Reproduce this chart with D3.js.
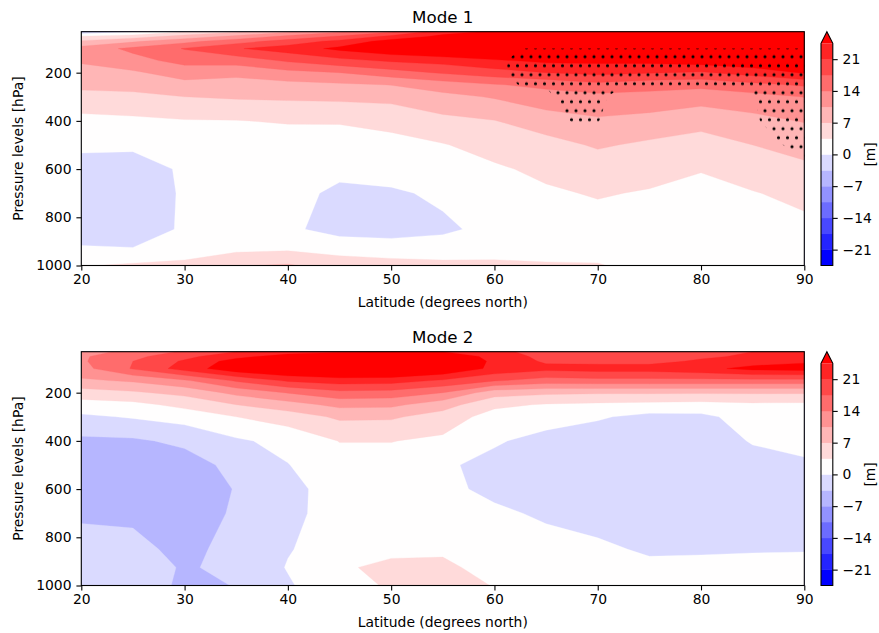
<!DOCTYPE html>
<html><head><meta charset="utf-8">
<script src="https://cdn.jsdelivr.net/npm/d3@7"></script>
<style>
body{margin:0;background:#fff;}
svg text{font-family:"DejaVu Sans",sans-serif;fill:#000;}
</style></head>
<body><svg id="chart" width="879" height="633"></svg>
<script>
// ---------------- data ----------------
const lats = [20,25,30,35,40,45,50,55,60,65,70,75,80,85,90];
const pressures = [30,50,70,100,150,200,250,300,400,500,600,700,850,925,1000];
const levels = [-24.5,-21,-17.5,-14,-10.5,-7,-3.5,0,3.5,7,10.5,14,17.5,21,24.5];
const cbTicks = [-21,-14,-7,0,7,14,21];
const xTicks = [20,30,40,50,60,70,80,90];
const yTicks = [200,400,600,800,1000];
const titles = ["Mode 1","Mode 2"];
const xLabel = "Latitude (degrees north)";
const yLabel = "Pressure levels [hPa]";
const cbLabel = "[m]";

// values per latitude column, ordered by pressures (top -> bottom)
const mode1 = [
 [-3, 4, 7.5, 12, 11, 9, 7.8, 6, 2.4, 0.6, -1.2, -1.3, -0.8, 0.1, 3.3],
 [-0.5, 5.5, 10, 14.8, 12.8, 10, 8, 6.3, 2.8, 0.5, -1.3, -1.5, -1.2, 0, 4],
 [3.5, 8.5, 13, 17.7, 15.2, 12, 9.5, 7, 3.3, 1, 0.4, 0.3, 0.3, 1.2, 4.5],
 [6.5, 11.5, 16, 20.7, 15.5, 11.5, 9, 7.4, 3.4, 1.5, 0.8, 0.7, 0.8, 2.3, 6.8],
 [10, 15, 19, 22.7, 18, 13, 9.5, 7.6, 3.8, 1.6, 1, 0.8, 0.6, 2.6, 7.4],
 [13.5, 18, 22, 25.3, 20, 14, 10, 7.8, 3.8, 1.8, 0.6, -0.5, -1.2, 1.8, 5.5],
 [17, 22, 26, 27.5, 21.5, 16, 10.6, 8, 4.6, 2.3, 1.2, -0.4, -1.5, 1.5, 4.8],
 [23, 25.5, 28, 29, 22.4, 17.9, 12.3, 9.5, 6.1, 3.3, 1.5, 0.5, -0.5, 1.2, 4.5],
 [25, 28, 30, 30, 24, 19.5, 13.8, 10.8, 6.9, 4.8, 3, 1.6, 0.8, 2, 4.2],
 [27, 29, 30, 31, 25.3, 21, 14.8, 12.7, 8.7, 5.8, 4.3, 3, 1.5, 2.3, 3.8],
 [28, 30, 31, 31, 25.3, 22, 16.5, 13, 10, 7.4, 5.2, 3.8, 2, 2.3, 3.7],
 [28.5, 30.5, 31, 31, 25.5, 21.3, 15.2, 13, 9.2, 6.4, 4.8, 3.2, 1.8, 2, 2.5],
 [29, 31, 31.5, 31.5, 26.5, 20.5, 15, 12, 8.2, 5.5, 3.7, 2.4, 1.5, 1.5, 2],
 [29, 31, 31.5, 31.5, 27.5, 22.5, 16.5, 12.8, 9.4, 7, 5.3, 3.3, 1.5, 1.2, 1.2],
 [29, 30.5, 31, 31, 28, 24.8, 18, 14.1, 10.7, 8.2, 6.3, 4.5, 2.5, 1.3, 0.8]
];
const mode2 = [
 [12.5, 13.5, 13.5, 12.8, 9.9, 5.4, 2, -0.6, -4.2, -5.5, -5.5, -3.9, -2.5, -2, -1.5],
 [15, 16.5, 17.5, 17.8, 11, 6.5, 2.5, 0.3, -4, -5.8, -6, -4.2, -2.5, -2, -1.5],
 [18, 20, 21.5, 22.5, 13.5, 8, 4.5, 1.4, -2.8, -5, -5.8, -5.5, -4.5, -3.8, -4.2],
 [21, 23.5, 26, 27, 18, 11.5, 7, 3.5, -0.5, -2.5, -3.3, -3, -2.3, -2.8, -3.4],
 [23, 26, 28.5, 29, 21.5, 14.2, 9, 5.2, 1, -0.1, -1, -0.8, -0.2, 0.2, -0.4],
 [24, 27.5, 30, 30, 22.8, 16.5, 11.5, 7.6, 3.6, 2.2, 1.5, 1.3, 1.5, 3.1, 2.5],
 [24.5, 28, 30.5, 30, 22.5, 16.2, 11.3, 7.5, 3.6, 2.2, 1.8, 1.8, 2.8, 4.2, 3.8],
 [24.5, 28, 30, 28, 20.5, 14, 8.5, 5.5, 2.8, 0.5, 0.8, 1.3, 3.2, 3.9, 4.0],
 [22, 23, 23.5, 23.5, 17.8, 8.5, 4.3, 2, 0.4, -1, -0.8, 0.6, 2.5, 2.8, 3.45],
 [19.5, 20, 20.5, 22, 16, 7.7, 3.2, 1.5, -1.2, -2, -2, -0.5, 1.2, 1.5, 1.8],
 [19, 19.5, 20, 22.5, 16.4, 7.4, 2.8, 0.4, -2, -2.5, -2.5, -1.5, 0.7, 1, 1.2],
 [19, 19.5, 20, 22.5, 16.4, 7.4, 2.5, -1, -2.3, -2.8, -2.8, -2.3, -0.5, 0.8, 1],
 [20, 20.5, 21.5, 23.5, 16.4, 7.4, 2.2, -0.8, -2.2, -2.8, -2.8, -2.3, -0.4, 0.9, 1],
 [21, 21.5, 23, 25.5, 16.4, 7.4, 2.8, 1.5, 0.3, -1.5, -2.3, -2.3, -0.2, 0.8, 0.8],
 [22, 22.5, 24, 26, 16.4, 7.4, 2.7, 1.8, 0.8, -0.4, -1.5, -1.5, -0.1, 0.6, 0.6]
];
// significance (stippling) for mode 1, rows ordered by pressures, columns by sigLats
const sigLats = [60,62.5,65,67.5,70,72.5,75,77.5,80,82.5,85,87.5,90];
const sig1 = [
 [0,0,0,0,0,0,0,0,0,0,0,0,0],
 [0,0,0,0,0,0,0,0,0,0,0,0,0],
 [0,0,0,0,0,0,0,0,0,0,0,0,0],
 [0,0.5,0.5,0.5,0.5,0.5,0.5,0.5,0.5,0.5,0.5,0.5,0.5],
 [0,1,1,1,1,1,1,1,1,1,1,1,1],
 [0,1,1,1,1,1,1,1,1,1,1,1,1],
 [0,0.55,0.55,1,1,0.55,0.55,0.55,0.55,0.55,0.55,1,1],
 [0,0,0.3,1,0.8,0,0,0,0,0,0.45,1,1],
 [0,0,0.15,0.53,0.53,0,0,0,0,0,0.3,1,1],
 [0,0,0,0,0,0,0,0,0,0,0,0.4,1],
 [0,0,0,0,0,0,0,0,0,0,0,0,0],
 [0,0,0,0,0,0,0,0,0,0,0,0,0],
 [0,0,0,0,0,0,0,0,0,0,0,0,0],
 [0,0,0,0,0,0,0,0,0,0,0,0,0],
 [0,0,0,0,0,0,0,0,0,0,0,0,0]
];

// ---------------- helpers ----------------
function bwr(t){
  let i = Math.floor(t*256); i = Math.max(0, Math.min(255, i));
  const x = i/255;
  let r,g,b;
  if (x < 0.5){ r = 2*x; g = 2*x; b = 1; } else { r = 1; g = 2*(1-x); b = 2*(1-x); }
  return d3.rgb(Math.round(r*255), Math.round(g*255), Math.round(b*255)).formatHex();
}
const nBands = levels.length - 1;
function bandColor(k){ return k >= nBands ? "#ff0000" : bwr(k / nBands); }
const fmt = d => d < 0 ? "\u2212" + Math.abs(d) : String(d);

const svg = d3.select("#chart");
svg.append("rect").attr("width",879).attr("height",633).attr("fill","#fff");
const defs = svg.append("defs");
const pat = defs.append("pattern").attr("id","dots").attr("patternUnits","userSpaceOnUse")
  .attr("x",0).attr("y",2.7).attr("width",9).attr("height",18);
[[0,0],[9,0],[4.5,9],[0,18],[9,18]].forEach(p=>pat.append("circle").attr("cx",p[0]).attr("cy",p[1]).attr("r",1.55).attr("fill","#000"));

const X0 = 81.3, X1 = 804.3;
const xS = d3.scaleLinear().domain([20,90]).range([X0,X1]);
const nx = lats.length, ny = pressures.length;
const latOf = d3.scaleLinear().domain(d3.range(nx)).range(lats);
const pOf = d3.scaleLinear().domain(d3.range(ny)).range(pressures);
const sigLatOf = d3.scaleLinear().domain(d3.range(sigLats.length)).range(sigLats);

const panels = [
  {off:0, data:mode1, sig:sig1, title:titles[0]},
  {off:320, data:mode2, sig:null, title:titles[1]}
];

panels.forEach((P, pi) => {
  const top = 31.7 + P.off, bot = 265.5 + P.off;
  const yS = d3.scaleLinear().domain([30,1000]).range([top, bot]);
  const g = svg.append("g");
  const cid = "clip" + pi;
  defs.append("clipPath").attr("id",cid).append("rect")
    .attr("x",X0).attr("y",top).attr("width",X1-X0).attr("height",bot-top);
  const field = g.append("g").attr("clip-path",`url(#${cid})`);

  const flat = [];
  for (let j=0;j<ny;j++) for (let i=0;i<nx;i++) flat.push(P.data[i][j]);
  const cs = d3.contours().size([nx,ny]).thresholds(levels)(flat);
  const proj = d3.geoTransform({point: function(x,y){
    this.stream.point(xS(latOf(x-0.5)), yS(pOf(y-0.5)));
  }});
  const path = d3.geoPath(proj);
  field.selectAll("path.band").data(cs).join("path").attr("class","band")
    .attr("d", path).attr("fill",(d,i)=>bandColor(i)).attr("fill-rule","evenodd")
    .attr("stroke",(d,i)=>bandColor(i)).attr("stroke-width",0.3);

  if (P.sig){
    const ns = sigLats.length;
    const sflat = [];
    for (let j=0;j<ny;j++) for (let i=0;i<ns;i++) sflat.push(P.sig[j][i]);
    const sc = d3.contours().size([ns,ny]).thresholds([0.5])(sflat);
    const sproj = d3.geoTransform({point: function(x,y){
      this.stream.point(xS(sigLatOf(x-0.5)), yS(pOf(y-0.5)));
    }});
    field.selectAll("path.sig").data(sc).join("path").attr("class","sig")
      .attr("d", d3.geoPath(sproj)).attr("fill","url(#dots)").attr("fill-rule","evenodd");
  }

  // axes
  const ax = g.append("g").attr("transform",`translate(0,${bot})`)
    .call(d3.axisBottom(xS).tickValues(xTicks).tickSize(4.9).tickPadding(3.4).tickSizeOuter(0).tickFormat(d3.format("d")));
  const ay = g.append("g").attr("transform",`translate(${X0},0)`)
    .call(d3.axisLeft(yS).tickValues(yTicks).tickSize(4.9).tickPadding(4.9).tickSizeOuter(0).tickFormat(d3.format("d")));
  [ax,ay].forEach(a=>{
    a.select(".domain").remove();
    a.selectAll("line").attr("stroke","#000").attr("stroke-width",1.1);
    a.selectAll("text").attr("font-size","13.9px").attr("font-family","DejaVu Sans").attr("fill","#000");
  });
  g.append("rect").attr("x",X0).attr("y",top).attr("width",X1-X0).attr("height",bot-top)
    .attr("fill","none").attr("stroke","#000").attr("stroke-width",1.1);

  g.append("text").attr("x",(X0+X1)/2).attr("y",top-8.3).attr("text-anchor","middle")
    .attr("font-size","16.7px").text(P.title);
  g.append("text").attr("x",(X0+X1)/2).attr("y",bot+41).attr("text-anchor","middle")
    .attr("font-size","13.9px").text(xLabel);
  g.append("text").attr("transform",`translate(23,${(top+bot)/2}) rotate(-90)`).attr("text-anchor","middle")
    .attr("font-size","13.9px").text(yLabel);

  // colorbar
  const cbX = 821, cbW = 11.8;
  const cbS = d3.scaleLinear().domain([-24.5,24.5]).range([265.5+P.off, 43.3+P.off]);
  const tip = 31.7 + P.off;
  const cb = svg.append("g");
  cb.selectAll("rect.cbb").data(d3.range(nBands)).join("rect").attr("class","cbb")
    .attr("x",cbX).attr("width",cbW)
    .attr("y",k=>cbS(levels[k+1])).attr("height",k=>cbS(levels[k])-cbS(levels[k+1])+0.3)
    .attr("fill",k=>bandColor(k));
  cb.append("path").attr("d",`M${cbX},${cbS(24.5)}L${cbX+cbW/2},${tip}L${cbX+cbW},${cbS(24.5)}Z`)
    .attr("fill",bandColor(nBands));
  cb.append("path").attr("d",`M${cbX},${cbS(-24.5)}L${cbX},${cbS(24.5)}L${cbX+cbW/2},${tip}L${cbX+cbW},${cbS(24.5)}L${cbX+cbW},${cbS(-24.5)}Z`)
    .attr("fill","none").attr("stroke","#000").attr("stroke-width",1.1);
  const ac = cb.append("g").attr("transform",`translate(${cbX+cbW},0)`)
    .call(d3.axisRight(cbS).tickValues(cbTicks).tickSize(4.9).tickPadding(4.9).tickSizeOuter(0).tickFormat(fmt));
  ac.select(".domain").remove();
  ac.selectAll("line").attr("stroke","#000").attr("stroke-width",1.1);
  ac.selectAll("text").attr("font-size","13.9px").attr("font-family","DejaVu Sans").attr("fill","#000");
  cb.append("text").attr("transform",`translate(874.5,${(cbS(24.5)+cbS(-24.5))/2}) rotate(-90)`)
    .attr("text-anchor","middle").attr("font-size","13.9px").text(cbLabel);
});
</script>
</body></html>
